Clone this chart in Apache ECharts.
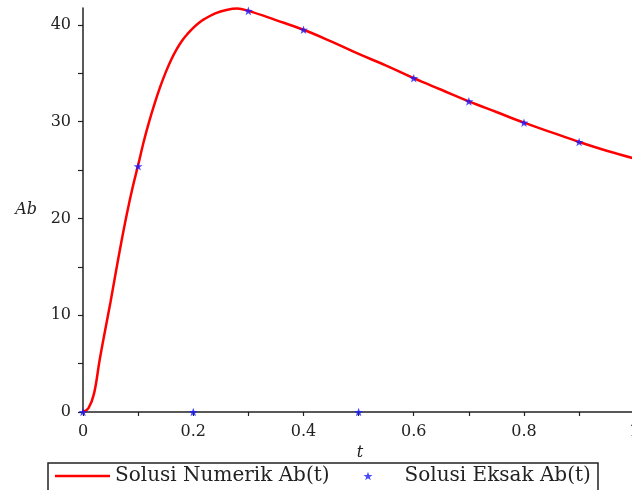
<!DOCTYPE html>
<html>
<head>
<meta charset="utf-8">
<script src="https://cdn.jsdelivr.net/npm/echarts@6/dist/echarts.min.js"></script>
<style>
  html, body { margin: 0; padding: 0; background: #fff; }
  #chart { width: 632px; height: 490px; }
</style>
</head>
<body>
<div id="chart"></div>
<script>
// kurva numerik (garis merah)
var tNum = [0, 0.01, 0.02, 0.03, 0.04, 0.05, 0.06, 0.07, 0.08, 0.09,
  0.1, 0.11, 0.12, 0.13, 0.14, 0.15, 0.16, 0.17, 0.18, 0.19,
  0.2, 0.21, 0.22, 0.24, 0.26, 0.28, 0.3, 0.35, 0.4, 0.45,
  0.5, 0.55, 0.6, 0.65, 0.7, 0.75, 0.8, 0.85, 0.9, 0.95, 1.0];
var abNum = [0, 0.4, 1.9, 5.3, 8.4, 11.4, 14.6, 17.7, 20.6, 23.2,
  25.5, 27.9, 30.0, 31.9, 33.6, 35.1, 36.4, 37.5, 38.4, 39.1,
  39.7, 40.2, 40.6, 41.2, 41.55, 41.7, 41.45, 40.5, 39.5, 38.3,
  37.0, 35.8, 34.5, 33.3, 32.1, 31.0, 29.9, 28.9, 27.9, 27.0, 26.2];

// solusi eksak (bintang biru)
var tEks = [0, 0.1, 0.2, 0.3, 0.4, 0.5, 0.6, 0.7, 0.8, 0.9];
var abEks = [0, 25.4, 0, 41.45, 39.5, 0, 34.5, 32.1, 29.9, 27.9];

// tick dan label sumbu
var xTicks = [0, 0.1, 0.2, 0.3, 0.4, 0.5, 0.6, 0.7, 0.8, 0.9, 1];
var xLabels = [0, 0.2, 0.4, 0.6, 0.8, 1];
var yTicks = [0, 5, 10, 15, 20, 25, 30, 35, 40];
var yLabels = [0, 10, 20, 30, 40];

var star = 'path://M0,-10 L2.35,-3.24 L9.51,-3.09 L3.8,1.24 L5.88,8.09 L0,4 L-5.88,8.09 L-3.8,1.24 L-9.51,-3.09 L-2.35,-3.24 Z';
var lineIcon = 'path://M0,0 L55,0 L55,2.5 L0,2.5 Z';
var serif = 'DejaVu Serif';
var legendText = { fontFamily: serif, fontSize: 20, color: '#222' };

var myChart = echarts.init(document.getElementById('chart'));
myChart.setOption({
  animation: false,
  grid: { left: 83, top: 8, right: -5, bottom: 78, outerBoundsMode: 'none' },
  xAxis: {
    type: 'value',
    min: 0,
    max: 1.005,
    name: 't',
    nameLocation: 'middle',
    nameGap: 26,
    nameTextStyle: { fontFamily: serif, fontStyle: 'italic', fontSize: 16, color: '#222' },
    axisLine: { onZero: false, lineStyle: { color: '#222', width: 1.5 } },
    axisTick: { customValues: xTicks, length: 4, lineStyle: { color: '#222', width: 1.2 } },
    axisLabel: {
      customValues: xLabels, hideOverlap: false,
      margin: 12, fontFamily: serif, fontSize: 16, color: '#222'
    },
    splitLine: { show: false }
  },
  yAxis: {
    type: 'value',
    min: 0,
    max: 41.75,
    name: 'Ab',
    nameLocation: 'middle',
    nameRotate: 0,
    nameGap: 46,
    nameTextStyle: { fontFamily: serif, fontStyle: 'italic', fontSize: 16, color: '#222' },
    axisLine: { show: true, lineStyle: { color: '#222', width: 1.5 } },
    axisTick: { customValues: yTicks, length: 5, lineStyle: { color: '#222', width: 1.2 } },
    axisLabel: { customValues: yLabels, margin: 12, fontFamily: serif, fontSize: 16, color: '#222' },
    splitLine: { show: false }
  },
  // kotak legenda
  graphic: [{
    type: 'rect',
    shape: { x: 48, y: 463, width: 550, height: 34 },
    style: { fill: 'none', stroke: '#222', lineWidth: 1.5 },
    silent: true
  }],
  legend: [
    {
      left: 55,
      top: 466,
      padding: 0,
      itemWidth: 55,
      itemHeight: 9,
      textStyle: legendText,
      data: [{ name: 'Solusi Numerik Ab(t)', icon: lineIcon }]
    },
    {
      left: 363.5,
      top: 466,
      padding: 0,
      itemWidth: 9,
      itemHeight: 9,
      textStyle: Object.assign({ padding: [0, 0, 0, 27] }, legendText),
      data: ['Solusi Eksak Ab(t)']
    }
  ],
  series: [
    {
      name: 'Solusi Numerik Ab(t)',
      type: 'line',
      data: tNum.map(function (t, i) { return [t, abNum[i]]; }),
      symbol: 'none',
      smooth: 0.4,
      lineStyle: { color: '#ff0000', width: 2.5 },
      itemStyle: { color: '#ff0000' }
    },
    {
      name: 'Solusi Eksak Ab(t)',
      type: 'scatter',
      data: tEks.map(function (t, i) { return [t, abEks[i]]; }),
      symbol: star,
      symbolSize: 9,
      symbolKeepAspect: true,
      itemStyle: { color: '#1a1aff' },
      z: 5
    }
  ]
});
</script>
</body>
</html>
